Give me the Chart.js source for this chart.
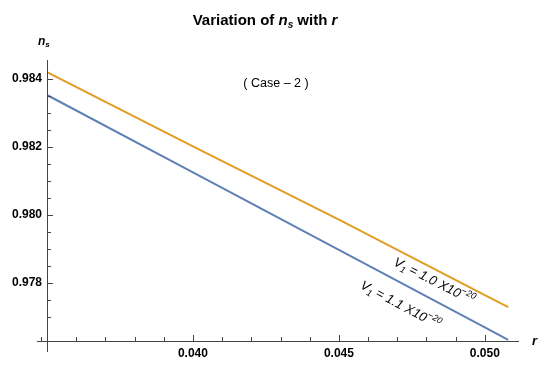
<!DOCTYPE html>
<html>
<head>
<meta charset="utf-8">
<script src="https://cdn.jsdelivr.net/npm/chart.js@4/dist/chart.umd.min.js"></script>
<style>
    body { margin: 0; background: #fff; }
    canvas { display: block; }
</style>
</head>
<body>
<canvas id="chart1" width="550" height="367"></canvas>
<script>

// datos
const rValues = [0.035, 0.040, 0.045, 0.050, 0.0508]
const nsV1a = [0.98420, 0.98202, 0.97986, 0.97764, 0.97729]   // V1 = 1.0 X10^-20
const nsV1b = [0.98353, 0.98125, 0.97897, 0.97669, 0.97632]   // V1 = 1.1 X10^-20
const seriesNames = ['1.0', '1.1']
const xTickLabels = [0.040, 0.045, 0.050]
const yTickLabels = [0.978, 0.980, 0.982, 0.984]
// posicion (en unidades de datos) de cada etiqueta de curva
const labelR = [0.04826, 0.04711]
const labelNs = [0.97805, 0.97735]

const orange = '#E19C24'
const blue = '#5E81B5'
const axisColor = '#444'

const isMultiple = (v, step) => Math.abs(v / step - Math.round(v / step)) < 1e-6

// dibuja texto con partes (cursiva, subindice, superindice)
const drawRich = (ctx, parts, x, y, align) => {
    let total = 0
    parts.forEach(p => {
        ctx.font = p.font
        p.w = ctx.measureText(p.text).width
        total += p.w
    })
    let cx = align === 'center' ? x - total / 2 : x
    parts.forEach(p => {
        ctx.font = p.font
        ctx.fillText(p.text, cx, y + (p.dy || 0))
        cx += p.w
    })
}

const mathAxes = {
    id: 'mathAxes',
    afterDraw(chart) {
        const { ctx, chartArea, scales } = chart
        const xs = scales.x, ys = scales.y
        ctx.save()
        ctx.strokeStyle = axisColor
        ctx.lineWidth = 1

        // ejes
        ctx.beginPath()
        ctx.moveTo(chartArea.left - 10, chartArea.bottom + 0.5)
        ctx.lineTo(chartArea.right, chartArea.bottom + 0.5)
        ctx.moveTo(chartArea.left + 0.5, chartArea.top)
        ctx.lineTo(chartArea.left + 0.5, chartArea.bottom + 11)
        ctx.stroke()

        // marcas del eje x (hacia arriba)
        ctx.beginPath()
        xs.ticks.forEach(t => {
            if (!isMultiple(t.value, 0.001)) return
            const px = Math.round(xs.getPixelForValue(t.value)) + 0.5
            const len = isMultiple(t.value, 0.005) ? 6 : 4
            ctx.moveTo(px, chartArea.bottom)
            ctx.lineTo(px, chartArea.bottom - len)
        })
        ctx.moveTo(chartArea.left - 5.5, chartArea.bottom)
        ctx.lineTo(chartArea.left - 5.5, chartArea.bottom - 4)
        ctx.stroke()

        // marcas del eje y (hacia la derecha)
        ctx.beginPath()
        ys.ticks.forEach(t => {
            if (!isMultiple(t.value, 0.0005)) return
            const py = Math.round(ys.getPixelForValue(t.value)) + 0.5
            const len = isMultiple(t.value, 0.002) ? 6 : 4
            ctx.moveTo(chartArea.left, py)
            ctx.lineTo(chartArea.left + len, py)
        })
        ctx.stroke()

        ctx.fillStyle = '#000'
        ctx.textBaseline = 'alphabetic'

        // titulo
        drawRich(ctx, [
            { text: 'Variation of ', font: 'bold 15px "Liberation Sans", Arial' },
            { text: 'n', font: 'italic bold 15px "Liberation Sans", Arial' },
            { text: 's', font: 'italic bold 10px "Liberation Sans", Arial', dy: 3 },
            { text: ' with ', font: 'bold 15px "Liberation Sans", Arial' },
            { text: 'r', font: 'italic bold 15px "Liberation Sans", Arial' }
        ], 265, 25, 'center')

        // etiquetas de ejes
        drawRich(ctx, [
            { text: 'n', font: 'italic bold 12px "Liberation Sans", Arial' },
            { text: 's', font: 'italic bold 8px "Liberation Sans", Arial', dy: 2 }
        ], 38, 45, 'left')
        drawRich(ctx, [
            { text: 'r', font: 'italic bold 13px "Liberation Sans", Arial' }
        ], 532, 345, 'left')

        // ( Case - 2 )
        drawRich(ctx, [
            { text: '( Case \u2013 2 )', font: '12.5px "Liberation Sans", Arial' }
        ], 276, 87, 'center')

        // etiquetas de las curvas, giradas segun la pendiente
        const seriesData = [nsV1a, nsV1b]
        seriesData.forEach((ns, i) => {
            const n = rValues.length - 1
            const dx = xs.getPixelForValue(rValues[n]) - xs.getPixelForValue(rValues[0])
            const dy = ys.getPixelForValue(ns[n]) - ys.getPixelForValue(ns[0])
            const ang = Math.atan2(dy, dx)
            ctx.save()
            ctx.translate(xs.getPixelForValue(labelR[i]), ys.getPixelForValue(labelNs[i]))
            ctx.rotate(ang)
            drawRich(ctx, [
                { text: 'V', font: 'italic 13px "Liberation Sans", Arial' },
                { text: '1', font: 'italic 9px "Liberation Sans", Arial', dy: 3 },
                { text: ' = ' + seriesNames[i] + ' X10', font: 'italic 13px "Liberation Sans", Arial' },
                { text: '\u221220', font: 'italic 9px "Liberation Sans", Arial', dy: -6 }
            ], 0, 4, 'center')
            ctx.restore()
        })

        ctx.restore()
    }
}

const drawNsChart = () => {

    const data = {
        datasets: [
            {
                data: rValues.map((r, i) => ({ x: r, y: nsV1a[i] })),
                borderColor: orange,
                borderWidth: 2,
                pointRadius: 0,
                label: 'V1 = 1.0 X10^-20'
            },
            {
                data: rValues.map((r, i) => ({ x: r, y: nsV1b[i] })),
                borderColor: blue,
                borderWidth: 2,
                pointRadius: 0,
                label: 'V1 = 1.1 X10^-20'
            }
        ]
    }

    const options = {
        responsive: false,
        animation: false,
        devicePixelRatio: 1,
        layout: {
            padding: { top: 60, right: 31, left: 0, bottom: 0 }
        },
        plugins: {
            legend: { display: false },
            tooltip: { enabled: false }
        },
        scales: {
            x: {
                type: 'linear',
                min: 0.035,
                max: 0.05117,
                afterFit: scale => { scale.height = 26 },
                grid: { display: false, drawTicks: false },
                border: { display: false },
                ticks: {
                    stepSize: 0.001,
                    autoSkip: false,
                    maxRotation: 0,
                    padding: 5,
                    color: '#000',
                    font: { family: '"Liberation Sans", Arial', size: 12, weight: 'bold' },
                    callback: v => xTickLabels.some(t => Math.abs(t - v) < 1e-7) ? v.toFixed(3) : ''
                }
            },
            y: {
                type: 'linear',
                min: 0.97629,
                max: 0.98456,
                afterFit: scale => { scale.width = 47 },
                grid: { display: false, drawTicks: false },
                border: { display: false },
                ticks: {
                    stepSize: 0.0005,
                    autoSkip: false,
                    padding: 5,
                    color: '#000',
                    font: { family: '"Liberation Sans", Arial', size: 12, weight: 'bold' },
                    callback: v => yTickLabels.some(t => Math.abs(t - v) < 1e-7) ? v.toFixed(3) : ''
                }
            }
        }
    }

    new Chart('chart1', {
        type: 'line',
        data,
        options,
        plugins: [mathAxes]
    })
}

drawNsChart()
</script>
</body>
</html>
